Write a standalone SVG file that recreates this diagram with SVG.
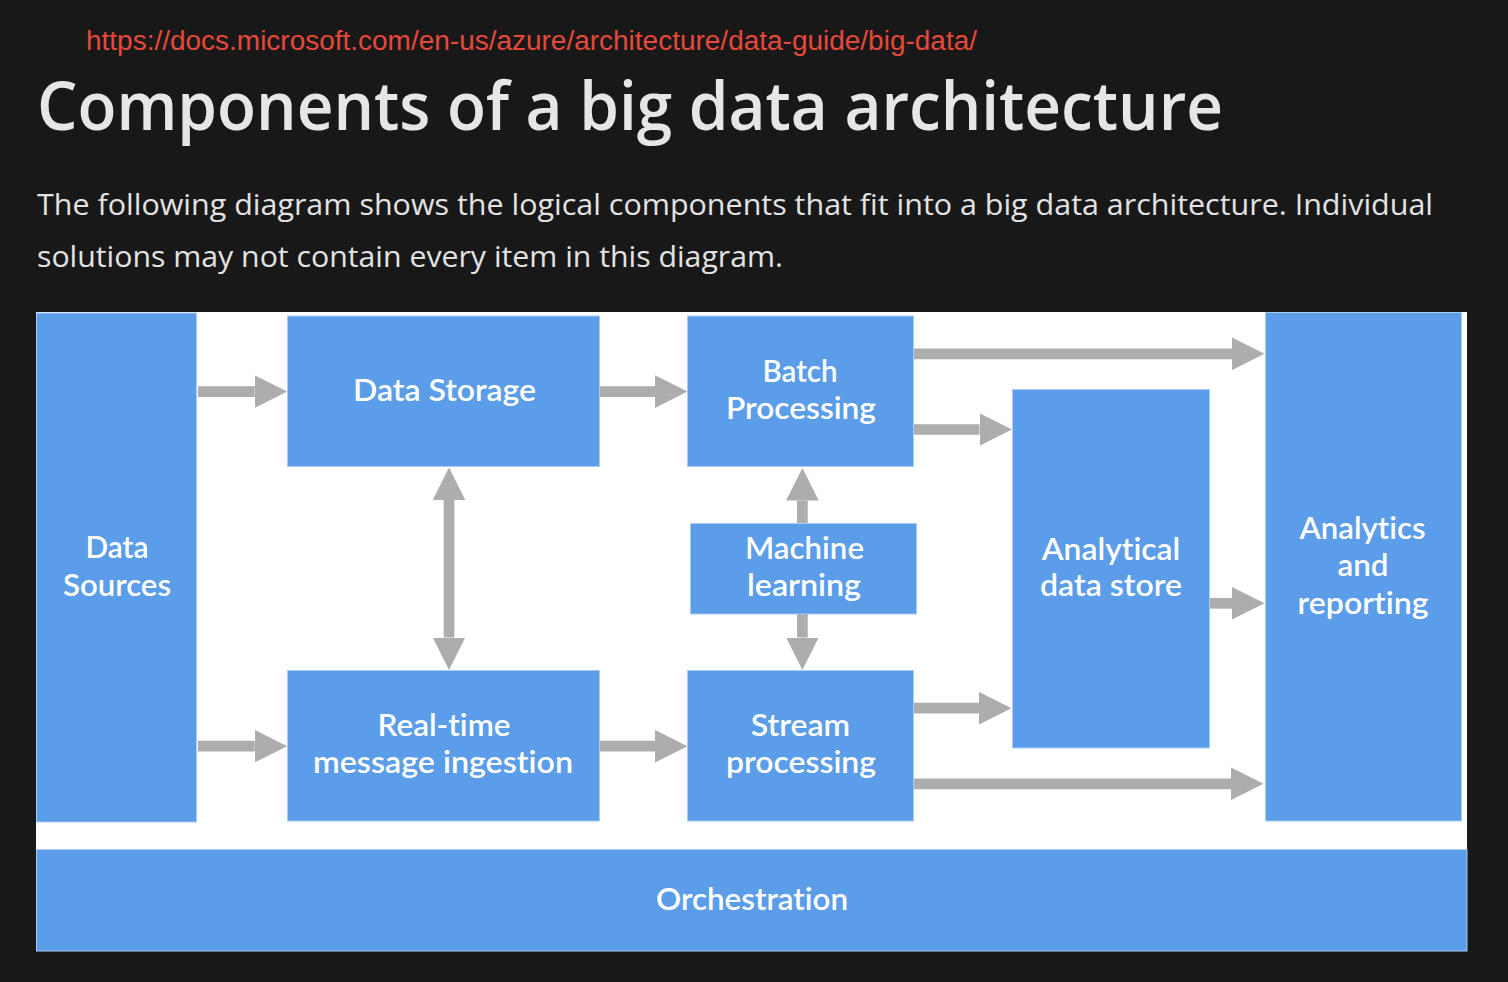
<svg xmlns="http://www.w3.org/2000/svg" width="1508" height="982" viewBox="0 0 1508 982">
  <style>
    .url { font-family: "Liberation Sans", Arial, sans-serif; font-size: 27px; fill: #E5493A; }
    .title { font-family: "Open Sans", "Noto Sans", sans-serif; font-size: 67px; font-weight: 600; fill: #E6E6E6; }
    .para { font-family: "Open Sans", "Noto Sans", sans-serif; font-size: 30px; fill: #E3E3E3; }
    .box { fill: #5B9DE9; stroke: #A9CCF3; stroke-width: 1; }
    .lbl { font-family: Lato, "Open Sans", sans-serif; font-size: 30px; font-weight: 600; fill: #FFFFFF; text-anchor: middle; font-variant-ligatures: none; }
    .conn { stroke: #ADADAD; stroke-width: 10.7; fill: none; }
  </style>
  <defs>
    <marker id="ah" markerUnits="userSpaceOnUse" markerWidth="33" markerHeight="33" refX="0" refY="16.3" orient="auto-start-reverse" viewBox="0 0 33 32.6">
      <path d="M0,0 L32.5,16.3 L0,32.6 Z" fill="#ADADAD"/>
    </marker>
  </defs>

  <rect x="0" y="0" width="1508" height="982" fill="#181818"/>

  <text class="url" x="86" y="50" textLength="891" lengthAdjust="spacingAndGlyphs">https://docs.microsoft.com/en-us/azure/architecture/data-guide/big-data/</text>
  <text class="title" x="37" y="130" textLength="1186" lengthAdjust="spacingAndGlyphs">Components of a big data architecture</text>
  <text class="para" x="37" y="215" textLength="1396" lengthAdjust="spacingAndGlyphs">The following diagram shows the logical components that fit into a big data architecture. Individual</text>
  <text class="para" x="37" y="267" textLength="746" lengthAdjust="spacingAndGlyphs">solutions may not contain every item in this diagram.</text>

  <rect x="36" y="312" width="1431" height="539" fill="#FFFFFF"/>

  <g id="connectors">
    <line class="conn" x1="198" y1="391.6" x2="254.7" y2="391.6" marker-end="url(#ah)"/>
    <line class="conn" x1="599" y1="391.6" x2="655" y2="391.6" marker-end="url(#ah)"/>
    <line class="conn" x1="913.5" y1="353.8" x2="1232" y2="353.8" marker-end="url(#ah)"/>
    <line class="conn" x1="913.5" y1="429.5" x2="979.5" y2="429.5" marker-end="url(#ah)"/>
    <line class="conn" x1="1209" y1="603.3" x2="1232" y2="603.3" marker-end="url(#ah)"/>
    <line class="conn" x1="198" y1="746.2" x2="254.7" y2="746.2" marker-end="url(#ah)"/>
    <line class="conn" x1="599" y1="746.2" x2="655" y2="746.2" marker-end="url(#ah)"/>
    <line class="conn" x1="913.5" y1="708.2" x2="979" y2="708.2" marker-end="url(#ah)"/>
    <line class="conn" x1="913.5" y1="783.8" x2="1231" y2="783.8" marker-end="url(#ah)"/>
    <line class="conn" x1="449" y1="500" x2="449" y2="637.5" marker-start="url(#ah)" marker-end="url(#ah)"/>
    <line class="conn" x1="802.4" y1="523.5" x2="802.4" y2="500.5" marker-end="url(#ah)"/>
    <line class="conn" x1="802.4" y1="614" x2="802.4" y2="637.5" marker-end="url(#ah)"/>
  </g>

  <g id="data-sources">
    <rect class="box" x="36.5" y="313" width="160" height="509"/>
    <text class="lbl" x="117" y="558" textLength="63" lengthAdjust="spacingAndGlyphs">Data</text>
    <text class="lbl" x="117" y="595.5" textLength="108" lengthAdjust="spacingAndGlyphs">Sources</text>
  </g>

  <g id="data-storage">
    <rect class="box" x="287.5" y="316" width="312" height="150.5"/>
    <text class="lbl" x="444.5" y="401" textLength="183" lengthAdjust="spacingAndGlyphs">Data Storage</text>
  </g>

  <g id="realtime-ingestion">
    <rect class="box" x="287.5" y="670.5" width="312" height="150.5"/>
    <text class="lbl" x="444" y="736" textLength="133" lengthAdjust="spacingAndGlyphs">Real-time</text>
    <text class="lbl" x="443" y="773" textLength="260" lengthAdjust="spacingAndGlyphs">message ingestion</text>
  </g>

  <g id="batch-processing">
    <rect class="box" x="687.5" y="316" width="226" height="150.5"/>
    <text class="lbl" x="800" y="382" textLength="75" lengthAdjust="spacingAndGlyphs">Batch</text>
    <text class="lbl" x="801" y="419" textLength="150" lengthAdjust="spacingAndGlyphs">Processing</text>
  </g>

  <g id="machine-learning">
    <rect class="box" x="690.5" y="523.5" width="226" height="90.5"/>
    <text class="lbl" x="804.5" y="558.5" textLength="119" lengthAdjust="spacingAndGlyphs">Machine</text>
    <text class="lbl" x="804" y="596" textLength="114" lengthAdjust="spacingAndGlyphs">learning</text>
  </g>

  <g id="stream-processing">
    <rect class="box" x="687.5" y="670.5" width="226" height="150.5"/>
    <text class="lbl" x="800.5" y="736" textLength="99.5" lengthAdjust="spacingAndGlyphs">Stream</text>
    <text class="lbl" x="801" y="773" textLength="150" lengthAdjust="spacingAndGlyphs">processing</text>
  </g>

  <g id="analytical-data-store">
    <rect class="box" x="1012.5" y="389.5" width="197" height="358.5"/>
    <text class="lbl" x="1111" y="559.5" textLength="138.5" lengthAdjust="spacingAndGlyphs">Analytical</text>
    <text class="lbl" x="1111" y="596" textLength="142" lengthAdjust="spacingAndGlyphs">data store</text>
  </g>

  <g id="analytics-reporting">
    <rect class="box" x="1265.5" y="312.5" width="196" height="508.5"/>
    <text class="lbl" x="1362.5" y="539" textLength="126" lengthAdjust="spacingAndGlyphs">Analytics</text>
    <text class="lbl" x="1363" y="576" textLength="51" lengthAdjust="spacingAndGlyphs">and</text>
    <text class="lbl" x="1363" y="614" textLength="131" lengthAdjust="spacingAndGlyphs">reporting</text>
  </g>

  <g id="orchestration">
    <rect class="box" x="36.5" y="849.5" width="1430.5" height="101.5"/>
    <text class="lbl" x="752" y="909.5" textLength="192" lengthAdjust="spacingAndGlyphs">Orchestration</text>
  </g>
</svg>
